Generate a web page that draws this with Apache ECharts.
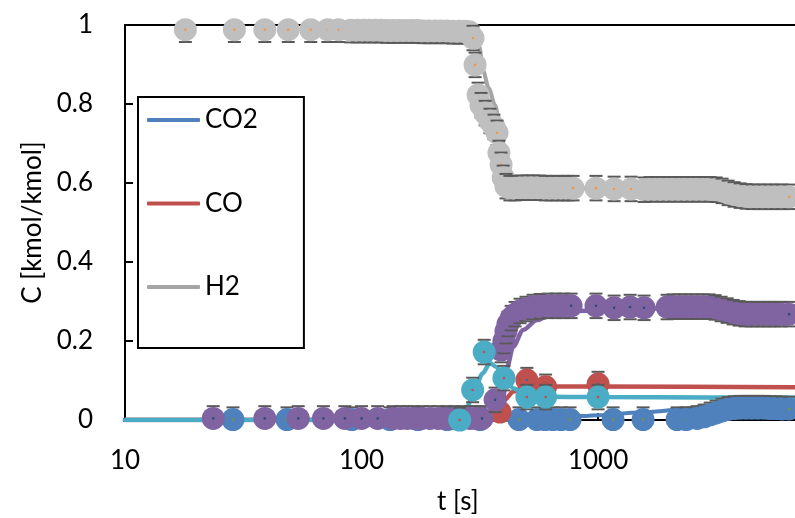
<!DOCTYPE html>
<html>
<head>
<meta charset="utf-8">
<script src="https://cdn.jsdelivr.net/npm/echarts@6/dist/echarts.min.js"></script>
<style>html,body{margin:0;padding:0;background:#fff}#c{width:795px;height:518px}</style>
</head>
<body>
<div id="c"></div>
<script>
// ---- data (t [s], C [kmol/kmol]) ----
const xTicks = [10, 100, 1000];
const yTicks = [0, 0.2, 0.4, 0.6, 0.8, 1];
const xMin = 10, xMax = 6800;   // visible time range of the (cropped) plot

// model lines
const lineCO2 = [[10,0],[400,0],[600,0.004],[840,0.01],[1000,0.012],[1500,0.019],[2900,0.033],[4000,0.036],[7000,0.036]];
const lineCO  = [[10,0],[300,0],[340,0.005],[370,0.025],[400,0.05],[440,0.072],[480,0.082],[520,0.085],[1000,0.085],[7000,0.083]];
const lineH2  = [[280,1.0],[290,0.995],[305,0.98],[315,0.945],[326,0.885],[345,0.84],[367,0.797],[385,0.745],[405,0.68],[425,0.63],[450,0.6],[500,0.59],[700,0.588],[1000,0.586],[3000,0.583],[3500,0.578],[4000,0.57],[4500,0.566],[7000,0.564]];
const lineS4  = [[10,0],[360,0],[385,0.02],[398,0.06],[412,0.132],[437,0.185],[482,0.228],[552,0.253],[627,0.266],[800,0.276],[1500,0.282],[3000,0.282],[3600,0.276],[4200,0.27],[5000,0.267],[7000,0.265]];
const lineS5  = [[10,0],[250,0],[265,0.006],[279,0.033],[300,0.075],[325,0.118],[349,0.144],[370,0.135],[400,0.108],[440,0.08],[500,0.063],[600,0.059],[1000,0.058],[3000,0.057],[7000,0.056]];

// experimental points
const expCO2 = [[28.6,0.001],[48.4,0.001],[91,0.001],[132,0.001],[173,0.001],[230,0.001],[317,0.001],[463,0.001],[552,0.001],[597,0.001],[645,0.001],[698,0.001],[761,0.001],[1157,0.001],[1550,0.001],[2158,0.001],[2356,0.001],[2622,0.004],[2807,0.008],[2976,0.013],[3155,0.018],[3345,0.023],[3546,0.027],[3759,0.029],[3985,0.03],[4225,0.03],[4479,0.03],[4748,0.03],[5034,0.03],[5338,0.029],[5656,0.029],[5998,0.028],[6422,0.028]];
const expCO  = [[385,0.02],[500,0.101],[600,0.084],[1000,0.091]];
const expH2  = [[18,0.988],[29,0.988],[39,0.988],[49,0.988],[61,0.988],[72,0.988],[80,0.988],[90,0.987],[96,0.987],[102,0.987],[108,0.987],[114,0.987],[121,0.987],[128,0.986],[136,0.986],[144,0.986],[153,0.986],[162,0.986],[172,0.986],[182,0.985],[193,0.985],[205,0.985],[217,0.985],[230,0.985],[244,0.984],[258,0.984],[274,0.984],[285,0.983],[296,0.967],[302,0.899],[311,0.823],[320,0.797],[333,0.777],[349,0.757],[363,0.742],[374,0.727],[381,0.676],[389,0.646],[397,0.613],[408,0.592],[424,0.587],[446,0.587],[473,0.588],[501,0.588],[531,0.588],[563,0.588],[597,0.587],[633,0.587],[671,0.587],[711,0.587],[747,0.587],[784,0.587],[980,0.587],[1169,0.585],[1379,0.585],[1565,0.583],[1659,0.584],[1759,0.584],[1865,0.584],[1977,0.584],[2096,0.584],[2222,0.584],[2356,0.584],[2497,0.584],[2647,0.584],[2807,0.584],[2976,0.584],[3155,0.583],[3345,0.58],[3546,0.575],[3759,0.571],[3985,0.568],[4225,0.566],[4479,0.565],[4748,0.565],[5034,0.565],[5338,0.565],[5656,0.565],[5998,0.565],[6422,0.565]];
const expS4  = [[23.6,0.004],[39,0.004],[54,0.004],[69,0.004],[85,0.004],[100,0.004],[117,0.004],[136,0.004],[146,0.004],[156,0.004],[167,0.004],[180,0.004],[195,0.004],[211,0.004],[228,0.004],[246,0.004],[266,0.004],[288,0.004],[305,0.004],[323,0.004],[367,0.051],[389,0.177],[400,0.2],[408,0.225],[416,0.243],[429,0.258],[446,0.268],[468,0.276],[496,0.281],[531,0.286],[569,0.288],[615,0.289],[664,0.289],[711,0.289],[769,0.289],[980,0.289],[1169,0.284],[1366,0.286],[1565,0.284],[1958,0.286],[2076,0.287],[2200,0.287],[2333,0.287],[2473,0.287],[2622,0.287],[2780,0.287],[2947,0.287],[3124,0.285],[3313,0.281],[3512,0.277],[3723,0.273],[3947,0.27],[4184,0.268],[4436,0.268],[4702,0.268],[4985,0.268],[5284,0.268],[5602,0.268],[5939,0.268],[6422,0.268]];
const expS5  = [[260,0.0],[295,0.076],[330,0.172],[400,0.106],[500,0.058],[600,0.058],[1000,0.058]];
const errBar = 0.031;

const FONT = 'Lato';
const chart = echarts.init(document.getElementById('c'), null, {renderer: 'canvas'});

function lineSeries(name, data, color, width, z) {
  return {
    type: 'line', name, data, color, z,
    showSymbol: false, symbol: 'none', smooth: 0.3, smoothMonotone: 'x',
    lineStyle: {color, width, cap: 'round'}, silent: true, animation: false
  };
}
function markerSeries(name, data, fill, dot, z) {
  return {
    type: 'custom', name, data, z, clip: false, silent: true, animation: false,
    encode: {x: 0, y: 1},
    renderItem: function (params, api) {
      const t = api.value(0), c = api.value(1);
      const p = api.coord([t, c]);
      const kids = [];
      const hw = 6.5;
      if (c + errBar <= 1.0001) {
        const q = api.coord([t, c + errBar]);
        kids.push({type: 'line', shape: {x1: p[0] - hw, y1: q[1], x2: p[0] + hw, y2: q[1]}, style: {stroke: '#595959', lineWidth: 2}});
      }
      if (c - errBar >= -0.0001) {
        const q = api.coord([t, c - errBar]);
        kids.push({type: 'line', shape: {x1: p[0] - hw, y1: q[1], x2: p[0] + hw, y2: q[1]}, style: {stroke: '#595959', lineWidth: 2}});
      }
      kids.push({type: 'circle', shape: {cx: p[0], cy: p[1], r: 11.5}, style: {fill: fill}});
      kids.push({type: 'circle', shape: {cx: p[0], cy: p[1], r: 1.3}, style: {fill: dot}});
      return {type: 'group', children: kids};
    }
  };
}

const axisBase = {
  type: 'log', logBase: 10, min: xMin, max: xMax,
  axisLine: {show: true, lineStyle: {color: '#000', width: 2}},
  splitLine: {show: false}
};

chart.setOption({
  animation: false,
  backgroundColor: '#fff',
  grid: {left: 125, top: 25, right: 0, height: 395, show: false},
  xAxis: [
    Object.assign({}, axisBase, {
      position: 'bottom',
      axisTick: {show: true, inside: true, length: 7, lineStyle: {color: '#000', width: 2}},
      axisLabel: {fontFamily: FONT, fontSize: 26, color: '#000', margin: 28, showMaxLabel: false,
        formatter: v => (xTicks.indexOf(Math.round(v)) >= 0 ? String(Math.round(v)) : '')}
    }),
    Object.assign({}, axisBase, {
      position: 'top', axisTick: {show: false}, axisLabel: {show: false}
    })
  ],
  yAxis: {
    type: 'value', min: yTicks[0], max: yTicks[yTicks.length - 1], interval: 0.2,
    name: 'C [kmol/kmol]', nameLocation: 'middle', nameGap: 77, nameRotate: 90,
    nameTextStyle: {fontFamily: FONT, fontSize: 26, color: '#000'},
    axisLine: {show: true, lineStyle: {color: '#000', width: 2}},
    axisTick: {show: true, inside: true, length: 8, lineStyle: {color: '#000', width: 2}},
    axisLabel: {fontFamily: FONT, fontSize: 26, color: '#000', margin: 32,
      formatter: v => String(parseFloat(v.toFixed(1)))},
    splitLine: {show: false}
  },
  legend: {
    data: ['CO2', 'CO', 'H2'], orient: 'vertical', left: 138, top: 97,
    icon: 'roundRect', itemWidth: 53, itemHeight: 4, itemGap: 53.5,
    padding: [8, 46, 46, 9], borderColor: '#000', borderWidth: 2, backgroundColor: '#fff',
    selectedMode: false,
    textStyle: {fontFamily: FONT, fontSize: 26, color: '#000', lineHeight: 30}
  },
  graphic: [{type: 'text', left: 437, top: 489, style: {text: 't [s]', font: '26px Lato', fill: '#000'}}],
  series: [
    lineSeries('CO2', lineCO2, '#4F81BD', 4, 2),
    lineSeries('CO', lineCO, '#C0504D', 4.5, 2),
    lineSeries('S4', lineS4, '#8064A2', 4.5, 2),
    lineSeries('H2', lineH2, '#A5A5A5', 4, 2),
    lineSeries('S5', lineS5, '#4BACC6', 4.5, 2),
    markerSeries('CO2 exp', expCO2, '#4F81BD', '#77933C', 3),
    markerSeries('CO exp', expCO, '#C0504D', '#4F5F9F', 4),
    markerSeries('S4 exp', expS4, '#8064A2', '#2C4D75', 5),
    markerSeries('S5 exp', expS5, '#4BACC6', '#C0504D', 6),
    markerSeries('H2 exp', expH2, '#BFBFBF', '#F79646', 7)
  ]
});
</script>
</body>
</html>
